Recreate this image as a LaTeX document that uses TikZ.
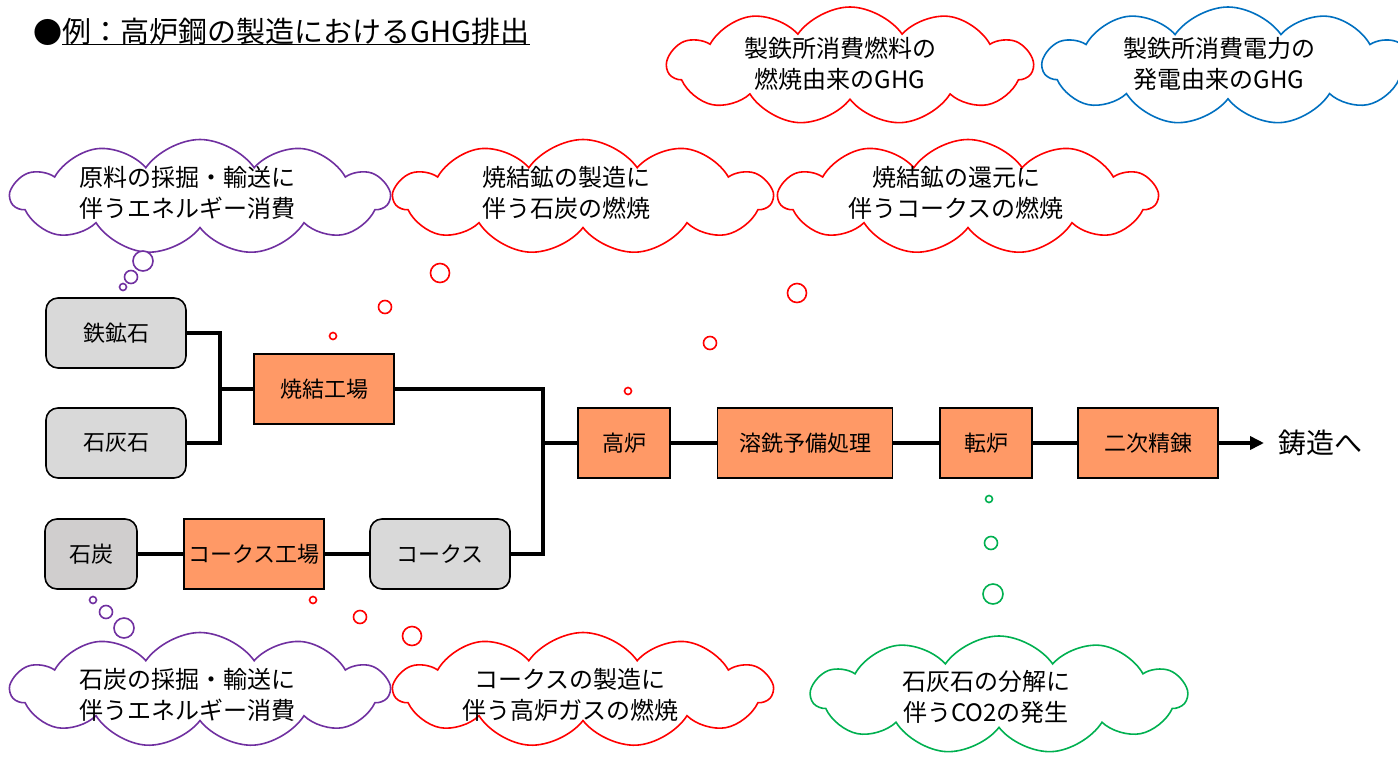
\documentclass[tikz,border=0pt]{standalone}
\usepackage{fontspec}
\setmainfont{Noto Sans CJK JP}
\usetikzlibrary{shapes.symbols,arrows.meta}
\definecolor{orng}{HTML}{FF9966}
\definecolor{lgray}{HTML}{D9D9D9}
\definecolor{dgray}{HTML}{D0CECE}
\definecolor{purp}{HTML}{7030A0}
\definecolor{redc}{HTML}{FF0000}
\definecolor{bluec}{HTML}{0070C0}
\definecolor{greenc}{HTML}{00B050}
\begin{document}
\begin{tikzpicture}[x=1pt,y=-1pt,
  box/.style={draw, line width=1.6pt, minimum width=140pt, minimum height=70pt, inner sep=0pt, font=\fontsize{22}{26}\selectfont},
  proc/.style={box, fill=orng},
  raw/.style={box, fill=lgray, rounded corners=12pt},
  link/.style={line width=3.8pt},
  thought/.style={cloud, cloud puffs=11, cloud puff arc=110, cloud ignores aspect, draw, line width=1.6pt, inner sep=0pt, fill=white},
  ctext/.style={align=center, font=\fontsize{24}{31}\selectfont, inner sep=0pt},
  bub/.style={circle, draw, line width=1.6pt, inner sep=0pt, fill=white}
]
\useasboundingbox (0,0) rectangle (1398,756);

% title
\node[anchor=west, inner sep=0pt, font=\fontsize{29}{32}\selectfont] (bullet) at (33,32) {●};
\node[anchor=west, inner sep=0pt, font=\fontsize{29}{32}\selectfont] (title) at (bullet.east) {例：高炉鋼の製造におけるGHG排出};
\draw[line width=1.5pt] ([yshift=1pt]title.south west) -- ([yshift=1pt]title.south east);

% boxes
\node[raw] (tetsu) at (116,333) {鉄鉱石};
\node[raw] (sekkai) at (116,443) {石灰石};
\node[proc] (shoketsu) at (324,389) {焼結工場};
\node[raw, fill=dgray, minimum width=92pt] (sekitan) at (91,554) {石炭};
\node[proc] (cokeplant) at (254,554) {コークス工場};
\node[raw] (coke) at (440,554) {コークス};
\node[proc, minimum width=92pt] (koro) at (624,443) {高炉};
\node[proc, minimum width=175pt] (yosen) at (805,443) {溶銑予備処理};
\node[proc, minimum width=92pt] (tenro) at (986,443) {転炉};
\node[proc] (niji) at (1148,443) {二次精錬};
\node[anchor=west, inner sep=0pt, font=\fontsize{28}{32}\selectfont] (chuzo) at (1278,443) {鋳造へ};

\coordinate (j1) at (220,389);
\coordinate (j2) at (543,443);

\draw[link] (tetsu.east) -| (j1) |- (sekkai.east);
\draw[link] (j1) -- (shoketsu.west);
\draw[link] (shoketsu.east) -| (j2) |- (coke.east);
\draw[link] (j2) -- (koro.west);
\draw[link] (sekitan.east) -- (cokeplant.west);
\draw[link] (cokeplant.east) -- (coke.west);
\draw[link] (koro.east) -- (yosen.west);
\draw[link] (yosen.east) -- (tenro.west);
\draw[link] (tenro.east) -- (niji.west);
\draw[link, -{Triangle[length=14pt,width=13pt]}, shorten >=14pt] (niji.east) -- (chuzo.west);

% clouds
\node[thought, draw=purp, minimum width=378pt, minimum height=115pt] (cp1) at (200,197) {};
\node[ctext] (tp1) at (187,193) {原料の採掘・輸送に\\伴うエネルギー消費};
\node[thought, draw=redc, minimum width=378pt, minimum height=115pt] (cr1) at (583,197) {};
\node[ctext] (tr1) at (566,193) {焼結鉱の製造に\\伴う石炭の燃焼};
\node[thought, draw=redc, minimum width=378pt, minimum height=115pt] (cr2) at (968,197) {};
\node[ctext] (tr2) at (956,193) {焼結鉱の還元に\\伴うコークスの燃焼};
\node[thought, draw=redc, minimum width=365pt, minimum height=118pt] (cr3) at (850,66) {};
\node[ctext] (tr3) at (840,64) {製鉄所消費燃料の\\燃焼由来のGHG};
\node[thought, draw=bluec, minimum width=370pt, minimum height=118pt] (cb) at (1228,66) {};
\node[ctext] (tb) at (1219,64) {製鉄所消費電力の\\発電由来のGHG};
\node[thought, draw=purp, minimum width=378pt, minimum height=115pt] (cp2) at (200,690) {};
\node[ctext] (tp2) at (187,695) {石炭の採掘・輸送に\\伴うエネルギー消費};
\node[thought, draw=redc, minimum width=378pt, minimum height=115pt] (cr4) at (583,690) {};
\node[ctext] (tr4) at (570,695) {コークスの製造に\\伴う高炉ガスの燃焼};
\node[thought, draw=greenc, minimum width=375pt, minimum height=118pt] (cg) at (999,695) {};
\node[ctext] (tg) at (986,697) {石灰石の分解に\\伴うCO2の発生};

% bubbles
\node[bub, draw=purp, minimum size=20pt] (bp1a) at (143,261) {};
\node[bub, draw=purp, minimum size=13pt] (bp1b) at (131,277) {};
\node[bub, draw=purp, minimum size=7pt] (bp1c) at (123,287) {};
\node[bub, draw=redc, minimum size=19pt] (br1a) at (440,273) {};
\node[bub, draw=redc, minimum size=13pt] (br1b) at (385,307) {};
\node[bub, draw=redc, minimum size=7pt] (br1c) at (333,336) {};
\node[bub, draw=redc, minimum size=19pt] (br2a) at (797,293) {};
\node[bub, draw=redc, minimum size=13pt] (br2b) at (710,343) {};
\node[bub, draw=redc, minimum size=7pt] (br2c) at (628,391) {};
\node[bub, draw=purp, minimum size=20pt] (bp2a) at (124,628) {};
\node[bub, draw=purp, minimum size=13pt] (bp2b) at (106,612) {};
\node[bub, draw=purp, minimum size=7pt] (bp2c) at (93,600) {};
\node[bub, draw=redc, minimum size=19pt] (br4a) at (412,636) {};
\node[bub, draw=redc, minimum size=13pt] (br4b) at (360,617) {};
\node[bub, draw=redc, minimum size=7pt] (br4c) at (313,600) {};
\node[bub, draw=greenc, minimum size=20pt] (bga) at (993,594) {};
\node[bub, draw=greenc, minimum size=13pt] (bgb) at (991,543) {};
\node[bub, draw=greenc, minimum size=7pt] (bgc) at (989,499) {};
\end{tikzpicture}
\end{document}
